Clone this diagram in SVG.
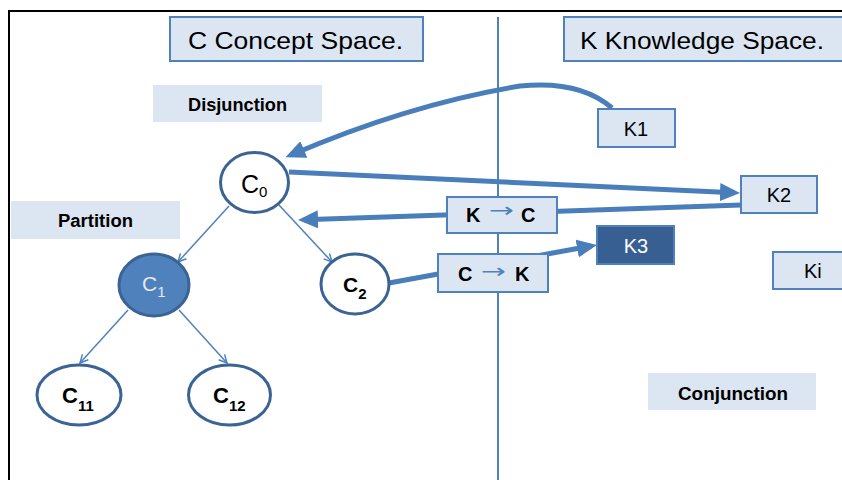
<svg xmlns="http://www.w3.org/2000/svg" width="842" height="480" viewBox="0 0 842 480">
<defs>
<style>
text{font-family:"Liberation Sans",Arial,"DejaVu Sans",sans-serif;fill:#000}
.box{fill:#dce6f2;stroke:#4f81bd;stroke-width:2}
.lbl{fill:#dce6f2;stroke:none}
.node{fill:#fff;stroke:#3b6495;stroke-width:3}
.thick{fill:none;stroke:#4a7ebb;stroke-width:5}
.thin{fill:none;stroke:#4f81bd;stroke-width:1.5}
.b{font-weight:bold}
.arr{font-family:"DejaVu Sans",sans-serif;font-size:20px;fill:#4f81bd}
</style>
<marker id="big" markerUnits="userSpaceOnUse" markerWidth="20" markerHeight="18" viewBox="0 0 20 18" refX="14" refY="9" orient="auto">
<path d="M0,0 L20,9 L0,18 z" fill="#4a7ebb"/>
</marker>
<marker id="open" markerUnits="userSpaceOnUse" markerWidth="10" markerHeight="10" viewBox="0 0 10 10" refX="9" refY="5" orient="auto">
<path d="M1,1 L9,5 L1,9" fill="none" stroke="#4f81bd" stroke-width="1.5"/>
</marker>
</defs>
<rect width="842" height="480" fill="#fff"/>
<path d="M9,480 V11 H842" fill="none" stroke="#000" stroke-width="2"/>
<line x1="498" y1="17" x2="498" y2="480" stroke="#4f81bd" stroke-width="2"/>

<g id="connectors">
<path class="thick" d="M612,108 Q580,80 520,86 Q410,104 291,155" marker-end="url(#big)"/>
<path class="thick" d="M289,172 L734,192.7" marker-end="url(#big)"/>
<path class="thick" d="M741,205 L304,219.8" marker-end="url(#big)"/>
<path class="thick" d="M389,283 L591,246" marker-end="url(#big)"/>
<path class="thin" d="M229,206 L178,262" marker-end="url(#open)"/>
<path class="thin" d="M279,205 L332,262" marker-end="url(#open)"/>
<path class="thin" d="M128,310 L80,363" marker-end="url(#open)"/>
<path class="thin" d="M179,310 L227,363" marker-end="url(#open)"/>
</g>

<g id="title-c">
<rect class="box" x="170" y="17" width="253" height="44"/>
<text x="188" y="49" font-size="24" textLength="215" lengthAdjust="spacingAndGlyphs">C Concept Space.</text>
</g>
<g id="title-k">
<rect class="box" x="564" y="17" width="290" height="44"/>
<text x="580" y="49" font-size="24" textLength="244" lengthAdjust="spacingAndGlyphs">K Knowledge Space.</text>
</g>
<g id="disjunction">
<rect class="lbl" x="153" y="85" width="169" height="37"/>
<text class="b" x="188" y="111" font-size="18" textLength="99" lengthAdjust="spacingAndGlyphs">Disjunction</text>
</g>
<g id="partition">
<rect class="lbl" x="11" y="201" width="169" height="38"/>
<text class="b" x="58" y="227" font-size="18" textLength="75" lengthAdjust="spacingAndGlyphs">Partition</text>
</g>
<g id="conjunction">
<rect class="lbl" x="648" y="373" width="168" height="37"/>
<text class="b" x="678" y="400" font-size="18" textLength="110" lengthAdjust="spacingAndGlyphs">Conjunction</text>
</g>

<g id="K1">
<rect class="box" x="598" y="109" width="77" height="38"/>
<text x="636" y="136" font-size="20" text-anchor="middle">K1</text>
</g>
<g id="K2">
<rect class="box" x="741" y="176" width="76" height="37"/>
<text x="779" y="202" font-size="20" text-anchor="middle">K2</text>
</g>
<g id="K3">
<rect x="597" y="226" width="77" height="38" fill="#375f91" stroke="#4f81bd" stroke-width="2"/>
<text x="636" y="253" font-size="20" text-anchor="middle" style="fill:#fff">K3</text>
</g>
<g id="Ki">
<rect class="box" x="773" y="252" width="80" height="37"/>
<text x="804" y="278" font-size="20">Ki</text>
</g>

<g id="KtoC">
<rect class="box" x="447" y="197" width="110" height="36"/>
<text class="b" x="466" y="222" font-size="20">K</text>
<text class="arr" x="489" y="217" textLength="25" lengthAdjust="spacingAndGlyphs">→</text>
<text class="b" x="521" y="222" font-size="20">C</text>
</g>
<g id="CtoK">
<rect class="box" x="438" y="254" width="110" height="38"/>
<text class="b" x="458" y="281" font-size="20">C</text>
<text class="arr" x="481" y="278" textLength="25" lengthAdjust="spacingAndGlyphs">→</text>
<text class="b" x="515" y="281" font-size="20">K</text>
</g>

<g id="C0">
<ellipse class="node" cx="254.5" cy="182.5" rx="34" ry="30"/>
<text x="241" y="193" font-size="25">C<tspan font-size="15" dy="4">0</tspan></text>
</g>
<g id="C1">
<ellipse class="node" cx="154" cy="285" rx="35" ry="31" style="fill:#4f81bd"/>
<text x="142" y="291" font-size="21" style="fill:#e4e9f2">C<tspan font-size="15" dy="6">1</tspan></text>
</g>
<g id="C2">
<ellipse class="node" cx="355" cy="284" rx="34" ry="30"/>
<text class="b" x="343" y="292" font-size="21">C<tspan font-size="15" dy="7">2</tspan></text>
</g>
<g id="C11">
<ellipse class="node" cx="79" cy="395" rx="42" ry="30"/>
<text class="b" x="62" y="403" font-size="22">C<tspan font-size="15" dy="8">11</tspan></text>
</g>
<g id="C12">
<ellipse class="node" cx="229.5" cy="395" rx="41" ry="30"/>
<text class="b" x="213" y="403" font-size="22">C<tspan font-size="15" dy="8">12</tspan></text>
</g>
</svg>
